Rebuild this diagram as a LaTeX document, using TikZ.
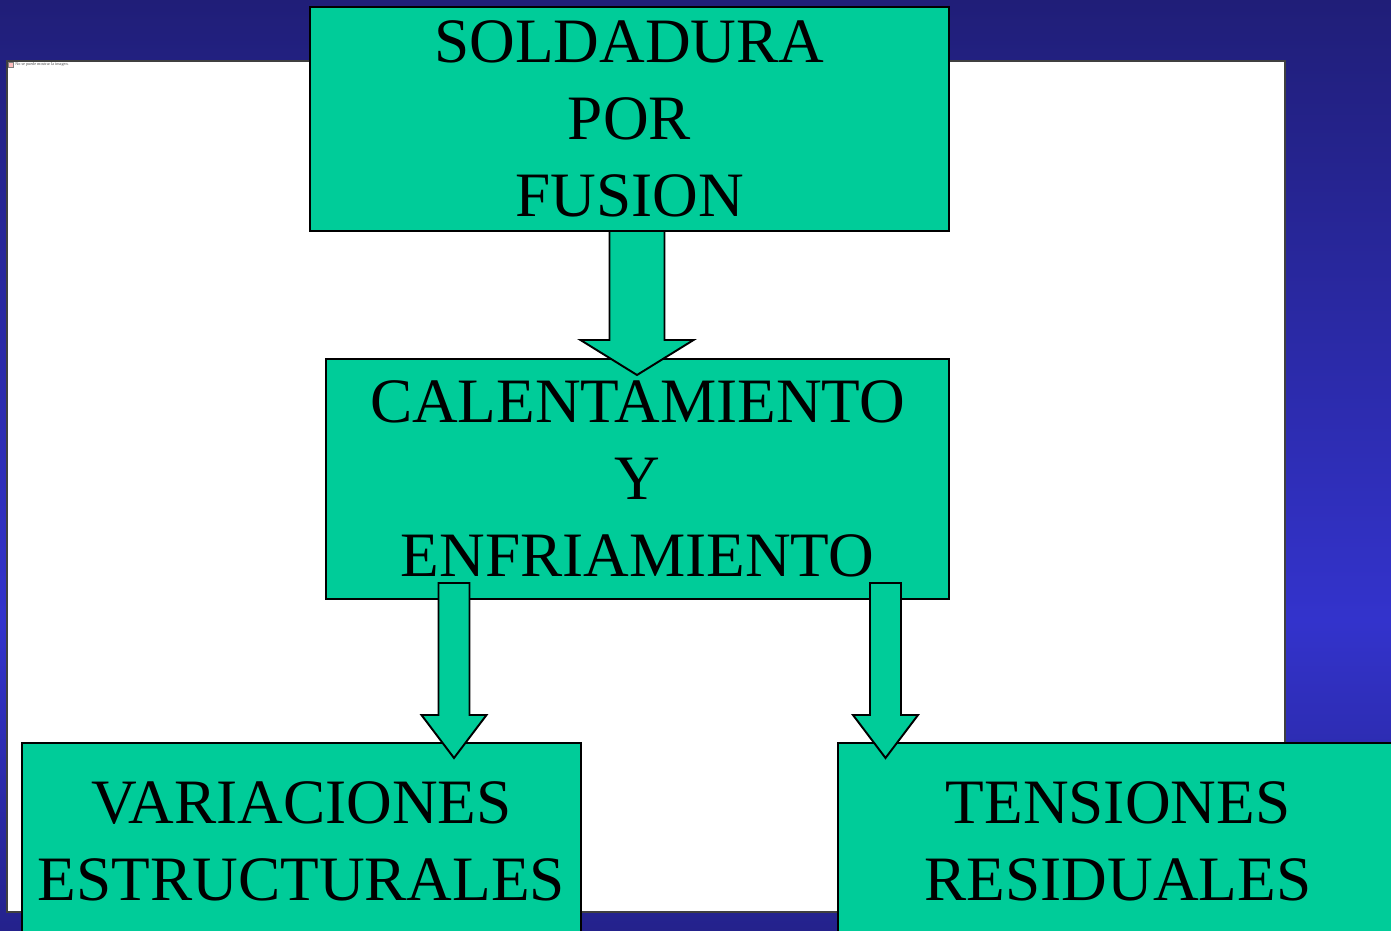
\documentclass[tikz,border=0pt]{standalone}
\usepackage{fontspec}
\setmainfont{Liberation Serif}
\usetikzlibrary{calc, positioning}

\definecolor{bgtop}{HTML}{201E78}
\definecolor{bgmid}{HTML}{3333CC}
\definecolor{bgbot}{HTML}{24228C}
\definecolor{boxgreen}{HTML}{00CC99}

% block arrow pointing down: #1 top, #2 tip, #3 half shaft, #4 half head, #5 head length
\newcommand{\blockdown}[5]{%
  \draw[blockarrow] ($(#1)+(-#3,0)$) -- ($(#2)+(-#3,-#5)$) -- ($(#2)+(-#4,-#5)$)
    -- (#2) -- ($(#2)+(#4,-#5)$) -- ($(#2)+(#3,-#5)$) -- ($(#1)+(#3,0)$) -- cycle;}

\begin{document}
\begin{tikzpicture}[
    x=0.02cm, y=-0.02cm,
    box/.style={rectangle, draw=black, fill=boxgreen, line width=1.1pt, align=center,
      inner sep=0pt, font=\fontsize{36}{43.7}\selectfont},
    blockarrow/.style={draw=black, fill=boxgreen, line width=1.1pt, line join=miter}
]
    \clip (0,0) rectangle (1391,930);

    % background
    \fill[top color=bgtop, bottom color=bgmid] (0,0) rectangle (1391,620);
    \fill[top color=bgmid, bottom color=bgbot] (0,620) rectangle (1391,930);
    \draw[fill=white, draw=black!75, line width=0.6pt] (7,61) rectangle (1285,912);

    % missing picture placeholder
    \draw[draw=black!50, fill=red!25, line width=0.2pt] (8.5,62.5) rectangle (13,67);
    \node (nopic) [anchor=west, inner sep=0pt, text=black!70, font=\fontsize{2.4}{3}\selectfont]
      at (15,64.5) {No se puede mostrar la imagen.};

    % boxes
    \node (fusion) [box, minimum width=639*0.02cm, minimum height=224*0.02cm]
      at (629.5,119) {SOLDADURA\\POR\\FUSION};
    \node (calor) [box, minimum width=623*0.02cm, minimum height=240*0.02cm]
      at (637.5,479) {CALENTAMIENTO\\Y\\ENFRIAMIENTO};
    \node (variac) [box, minimum width=559*0.02cm, minimum height=197*0.02cm]
      at (301.5,841.5) {VARIACIONES\\ESTRUCTURALES};
    \node (tension) [box, minimum width=560*0.02cm, minimum height=197*0.02cm]
      at (1118,841.5) {TENSIONES\\RESIDUALES};

    % arrows
    \coordinate (a1top) at (637,231);
    \coordinate (a1tip) at (637,375);
    \coordinate (a2top) at (454,583);
    \coordinate (a2tip) at (454,758);
    \coordinate (a3top) at (885.5,583);
    \coordinate (a3tip) at (885.5,758);

    \blockdown{a1top}{a1tip}{27.5}{56.5}{35}
    \blockdown{a2top}{a2tip}{15.5}{32.5}{43}
    \blockdown{a3top}{a3tip}{15.5}{32.5}{43}

\end{tikzpicture}
\end{document}
